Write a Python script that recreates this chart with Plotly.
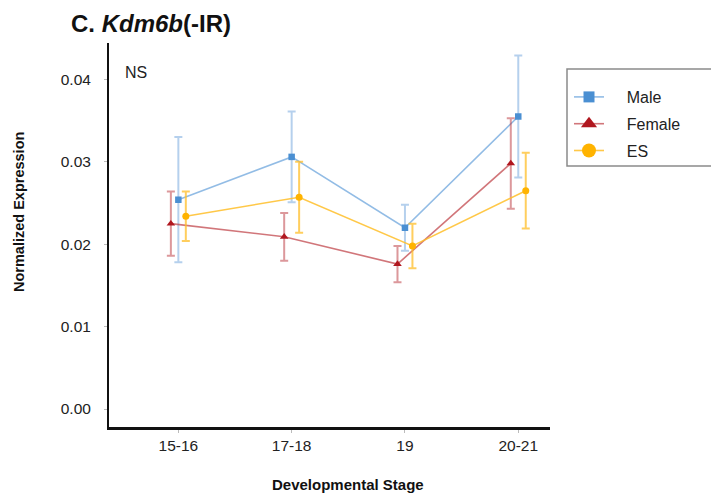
import plotly.graph_objects as go

# Developmental stages and normalized Kdm6b(-IR) expression (mean ± error)
stages = ["15-16", "17-18", "19", "20-21"]
male = [0.0254, 0.0306, 0.0220, 0.0355]
male_err = [0.0076, 0.0055, 0.0028, 0.0074]
female = [0.0225, 0.0209, 0.0176, 0.0298]
female_err = [0.0039, 0.0029, 0.0022, 0.0055]
es = [0.0234, 0.0257, 0.0198, 0.0265]
es_err = [0.0030, 0.0043, 0.0027, 0.0046]
y_ticks = [0.00, 0.01, 0.02, 0.03, 0.04]

FONT = "Liberation Sans, Arial, sans-serif"

# name, values, errors, offset, marker symbol, marker colour, line colour, error colour, plot size, legend size
series = [
    ("Male", male, male_err, 0.0, "square", "#4a8fd2", "rgba(110,165,220,0.75)", "rgba(120,170,222,0.55)", 6.5, 11),
    ("Female", female, female_err, -0.066, "triangle-up", "#b0171f", "rgba(185,45,50,0.65)", "rgba(185,50,55,0.5)", 7.5, 14),
    ("ES", es, es_err, 0.066, "circle", "#ffb300", "rgba(255,190,40,0.85)", "rgba(255,190,40,0.75)", 7, 14),
]

fig = go.Figure()
for name, vals, errs, off, sym, mcol, lcol, ecol, msize, lsize in series:
    fig.add_trace(go.Scatter(
        x=[i + off for i in range(len(stages))], y=vals,
        mode="lines+markers", name=name, showlegend=False,
        line=dict(color=lcol, width=1.6),
        marker=dict(symbol=sym, color=mcol, size=msize),
        error_y=dict(type="data", array=errs, color=ecol, thickness=2, width=4),
    ))

# legend entries with larger symbols
for k, (name, vals, errs, off, sym, mcol, lcol, ecol, msize, lsize) in enumerate(series):
    fig.add_trace(go.Scatter(
        x=[None], y=[None], mode="lines+markers",
        name="\u00a0\u00a0\u00a0\u00a0" + name, legendgroup=f"g{k}",
        line=dict(color=lcol, width=1.6),
        marker=dict(symbol=sym, color=mcol, size=lsize),
    ))

# legend frame
fig.add_shape(type="rect", xref="paper", yref="paper",
              x0=(567 - 109) / 441, x1=(716 - 109) / 441,
              y0=(427 - 166) / 384, y1=(427 - 69) / 384,
              line=dict(color="#8a8a8a", width=1.5), fillcolor="rgba(0,0,0,0)")

fig.add_annotation(text="NS", xref="paper", yref="paper",
                   x=(123 - 109) / 441, y=(427 - 72) / 384, xanchor="left", yanchor="middle",
                   showarrow=False, font=dict(family=FONT, size=16, color="#222"))

fig.add_annotation(text="<b>Developmental Stage</b>", xref="paper", yref="paper",
                   x=(348 - 109) / 441, y=(427 - 484) / 384, xanchor="center", yanchor="middle",
                   showarrow=False, font=dict(family=FONT, size=15, color="#111"))

fig.add_annotation(text="<b>Normalized Expression</b>", xref="paper", yref="paper",
                   x=(19 - 109) / 441, y=(427 - 212) / 384, xanchor="center", yanchor="middle",
                   textangle=-90, showarrow=False, font=dict(family=FONT, size=14.5, color="#111"))

fig.update_layout(
    width=711, height=497,
    margin=dict(l=109, r=161, t=43, b=70),
    paper_bgcolor="white", plot_bgcolor="white",
    font=dict(family=FONT, size=16, color="#222"),
    title=dict(text="<b>C. <i>Kdm6b</i>(-IR)</b>", x=71 / 711, xanchor="left",
               y=1 - 24 / 497, yanchor="middle", xref="container", yref="container",
               font=dict(family=FONT, size=24, color="#111")),
    xaxis=dict(range=[-0.612, 3.28], tickvals=list(range(len(stages))), ticktext=stages,
               showgrid=False, zeroline=False, showline=True, linecolor="#111", linewidth=2.5,
               ticks="outside", ticklen=3, tickcolor="#bbb", tickfont=dict(size=15.5)),
    yaxis=dict(range=[-0.00218, 0.04442], tickvals=y_ticks, ticktext=[f"{v:.2f}" for v in y_ticks],
               showgrid=False, zeroline=False, showline=True, linecolor="#111", linewidth=2,
               ticks="outside", ticklen=3, tickcolor="#bbb", ticklabelstandoff=10,
               tickfont=dict(size=15.5)),
    legend=dict(x=(569 - 109) / 441, y=(427 - 80) / 384, xanchor="left", yanchor="top",
                bgcolor="rgba(0,0,0,0)", borderwidth=0, tracegroupgap=3,
                font=dict(family=FONT, size=16, color="#222")),
)

fig.write_html("out.html")
